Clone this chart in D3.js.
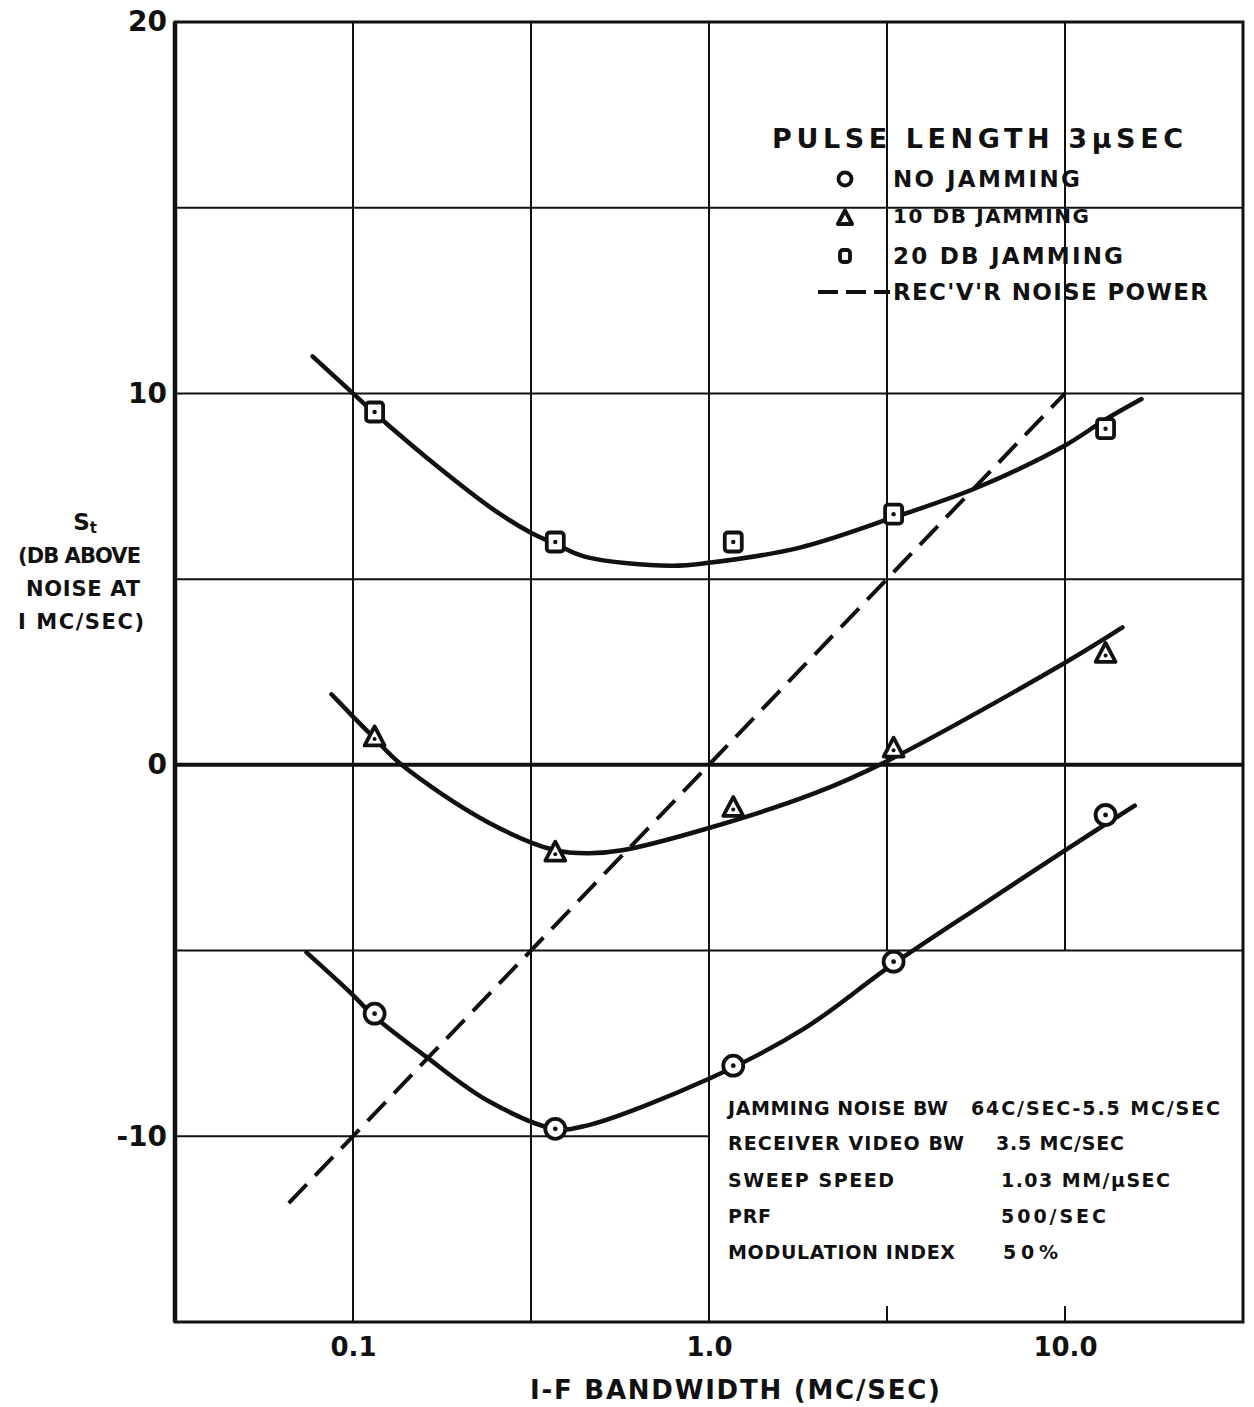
<!DOCTYPE html>
<html>
<head>
<meta charset="utf-8">
<title>Pulse length 3 usec</title>
<script src="https://cdn.jsdelivr.net/npm/d3@7/dist/d3.min.js"></script>
<style>
  body { margin: 0; background: #fff; }
  svg text { font-family: "DejaVu Sans", "Liberation Sans", sans-serif; font-weight: bold; fill: #111; }
</style>
</head>
<body>
<div id="chart"></div>
<script>
// measured points (I-F bandwidth in MC/SEC, S_t in DB)
const bandwidth = [0.115, 0.37, 1.17, 3.3, 13.0];
const noJamming = [-6.7, -9.8, -8.1, -5.3, -1.35];
const jam10 = [0.75, -2.35, -1.15, 0.45, 3.0];
const jam20 = [9.5, 6.0, 6.0, 6.75, 9.05];

// hand drawn fitted curves
const fitNoJam = [[0.074,-5.05],[0.1,-6.2],[0.114,-6.75],[0.16,-7.85],[0.24,-9.05],[0.37,-9.8],[0.45,-9.72],[1.0,-8.45],[1.85,-7.1],[3.25,-5.4],[6.0,-3.7],[10,-2.3],[15.7,-1.1]];
const fit10 = [[0.087,1.9],[0.1,1.3],[0.114,0.75],[0.137,0],[0.24,-1.55],[0.37,-2.3],[0.46,-2.38],[0.57,-2.3],[1.0,-1.7],[2.0,-0.75],[3.16,0.1],[10,2.75],[14.5,3.7]];
const fit20 = [[0.077,11.0],[0.1,10.0],[0.114,9.5],[0.177,7.95],[0.25,6.85],[0.316,6.25],[0.37,5.95],[0.45,5.6],[0.78,5.36],[1.0,5.44],[1.8,5.85],[3.16,6.6],[5.65,7.46],[10,8.6],[13,9.3],[16.4,9.85]];
// receiver noise power (dashed)
const noisePower = [[0.066,-11.8],[10,10]];

const yTicks = [20, 10, 0, -10];
const yTickLabels = ["20", "10", "0", "-10"];
const xTicks = [0.1, 1, 10];
const xTickLabels = ["0.1", "1.0", "10.0"];
const hGrid = [15, 10, 5, -5];
const vGrid = [0.1, Math.pow(10, -0.5), 1];
const vGridShort = [Math.pow(10, 0.5), 10];

const W = 1254, H = 1407;
const svg = d3.select("#chart").append("svg").attr("width", W).attr("height", H);

const x = d3.scaleLog().domain([Math.pow(10, -1.5), Math.pow(10, 1.5)]).range([175, 1243]);
const y = d3.scaleLinear().domain([-15, 20]).range([1322, 22]);

const grid = svg.append("g").attr("stroke", "#111").attr("fill", "none");

// horizontal grid
hGrid.forEach(v => grid.append("line")
  .attr("x1", x.range()[0]).attr("x2", x.range()[1])
  .attr("y1", y(v)).attr("y2", y(v)).attr("stroke-width", 2));
grid.append("line").attr("x1", x.range()[0]).attr("x2", x(1))
  .attr("y1", y(-10)).attr("y2", y(-10)).attr("stroke-width", 2);
grid.append("line").attr("x1", x.range()[0]).attr("x2", x.range()[1])
  .attr("y1", y(0)).attr("y2", y(0)).attr("stroke-width", 4);

// vertical grid
vGrid.forEach(v => grid.append("line")
  .attr("x1", x(v)).attr("x2", x(v))
  .attr("y1", y.range()[1]).attr("y2", y.range()[0]).attr("stroke-width", 2));
vGridShort.forEach(v => {
  grid.append("line").attr("x1", x(v)).attr("x2", x(v))
    .attr("y1", y.range()[1]).attr("y2", y(-5)).attr("stroke-width", 2);
  grid.append("line").attr("x1", x(v)).attr("x2", x(v))
    .attr("y1", y.range()[0] - 16).attr("y2", y.range()[0]).attr("stroke-width", 2);
});

// frame
grid.append("rect")
  .attr("x", x.range()[0]).attr("y", y.range()[1])
  .attr("width", x.range()[1] - x.range()[0])
  .attr("height", y.range()[0] - y.range()[1])
  .attr("stroke-width", 3);
grid.append("line").attr("x1", x.range()[0]).attr("x2", x.range()[0])
  .attr("y1", y.range()[1]).attr("y2", y.range()[0]).attr("stroke-width", 4.5);

// axes (labels only)
const xAxis = d3.axisBottom(x).tickValues(xTicks).tickSize(0).tickPadding(16)
  .tickFormat((d, i) => xTickLabels[i]);
const gx = svg.append("g").attr("transform", "translate(0," + y.range()[0] + ")").call(xAxis);
gx.select(".domain").remove();
gx.selectAll("text").attr("font-size", 26).attr("font-family", "DejaVu Sans").attr("font-weight", "bold").attr("fill", "#111");

const yAxis = d3.axisLeft(y).tickValues(yTicks).tickSize(0).tickPadding(8)
  .tickFormat((d, i) => yTickLabels[i]);
const gy = svg.append("g").attr("transform", "translate(" + x.range()[0] + ",0)").call(yAxis);
gy.select(".domain").remove();
gy.selectAll("text").attr("font-size", 28).attr("font-family", "DejaVu Sans").attr("font-weight", "bold").attr("fill", "#111");

// curves
const line = d3.line().x(d => x(d[0])).y(d => y(d[1])).curve(d3.curveCatmullRom.alpha(0.5));
[fitNoJam, fit10, fit20].forEach(c => svg.append("path")
  .attr("d", line(c)).attr("fill", "none").attr("stroke", "#111")
  .attr("stroke-width", 4.5).attr("stroke-linecap", "round"));

svg.append("path").attr("d", d3.line().x(d => x(d[0])).y(d => y(d[1]))(noisePower))
  .attr("fill", "none").attr("stroke", "#111").attr("stroke-width", 4)
  .attr("stroke-dasharray", "26,12");

// markers
function circleMark(g, r, dot) {
  g.append("circle").attr("r", r).attr("fill", "#fff").attr("stroke", "#111").attr("stroke-width", 3.8);
  if (dot) g.append("circle").attr("r", 2.4).attr("fill", "#111");
}
function squareMark(g, s, dot) {
  g.append("rect").attr("x", -s / 2).attr("y", -s / 2 - 1).attr("width", s).attr("height", s + 2)
    .attr("rx", 3).attr("fill", "#fff").attr("stroke", "#111").attr("stroke-width", 3.8);
  if (dot) g.append("circle").attr("r", 2.2).attr("fill", "#111");
}
function triMark(g, s, dot) {
  g.append("path").attr("d", `M0,${-s} L${s * 0.95},${s * 0.8} L${-s * 0.95},${s * 0.8} Z`)
    .attr("fill", "#fff").attr("stroke", "#111").attr("stroke-width", 3.8).attr("stroke-linejoin", "round");
  if (dot) g.append("circle").attr("cy", 2).attr("r", 2).attr("fill", "#111");
}

function plotSeries(vals, mark) {
  svg.append("g").selectAll("g").data(vals).enter().append("g")
    .attr("transform", (d, i) => "translate(" + x(bandwidth[i]) + "," + y(d) + ")")
    .each(function () { mark(d3.select(this)); });
}
plotSeries(noJamming, g => circleMark(g, 10, true));
plotSeries(jam10, g => triMark(g, 10.5, true));
plotSeries(jam20, g => squareMark(g, 17, true));

// text helper
function label(txt, px, py, size, width, anchor) {
  const t = svg.append("text").attr("x", px).attr("y", py)
    .attr("font-size", size).attr("dominant-baseline", "central")
    .attr("text-anchor", anchor || "start").text(txt);
  if (width) t.attr("textLength", width).attr("lengthAdjust", "spacing");
  return t;
}

// legend
label("PULSE LENGTH   3\u00B5SEC", 772, 138, 27, 411);
const lg = [[179, "NO JAMMING", 187, 23], [216, "10 DB JAMMING", 196, 20], [256, "20 DB JAMMING", 230, 23]];
circleMark(svg.append("g").attr("transform", "translate(845,179)"), 6.5, false);
triMark(svg.append("g").attr("transform", "translate(845,218)"), 7.5, false);
squareMark(svg.append("g").attr("transform", "translate(845,256)"), 10, false);
lg.forEach(r => label(r[1], 893, r[0], r[3], r[2]));
svg.append("line").attr("x1", 818).attr("x2", 890).attr("y1", 292).attr("y2", 292)
  .attr("stroke", "#111").attr("stroke-width", 4).attr("stroke-dasharray", "20,8");
label("REC'V'R NOISE POWER", 893, 292, 23, 315);

// conditions block
const cond = [
  [1108, "JAMMING NOISE BW", 220, 971, "64C/SEC-5.5 MC/SEC", 249],
  [1143, "RECEIVER VIDEO BW", 236, 996, "3.5 MC/SEC", 128],
  [1180, "SWEEP SPEED", 166, 1001, "1.03 MM/\u00B5SEC", 169],
  [1216, "PRF", 43, 1001, "500/SEC", 105],
  [1252, "MODULATION INDEX", 227, 1003, "50%", 55]
];
cond.forEach(r => {
  label(r[1], 728, r[0], 19, r[2]);
  label(r[4], r[3], r[0], 19, r[5]);
});

// axis titles
label("I-F  BANDWIDTH (MC/SEC)", 530, 1390, 26, 410);
svg.append("text").attr("x", 85).attr("y", 522).attr("font-size", 23)
  .attr("dominant-baseline", "central").attr("text-anchor", "middle")
  .html('S<tspan font-size="15" dy="6">t</tspan>');
label("(DB ABOVE", 18, 556, 21, 123);
label("NOISE AT", 26, 589, 21, 114);
label("I MC/SEC)", 18, 622, 21, 126);
</script>
</body>
</html>
